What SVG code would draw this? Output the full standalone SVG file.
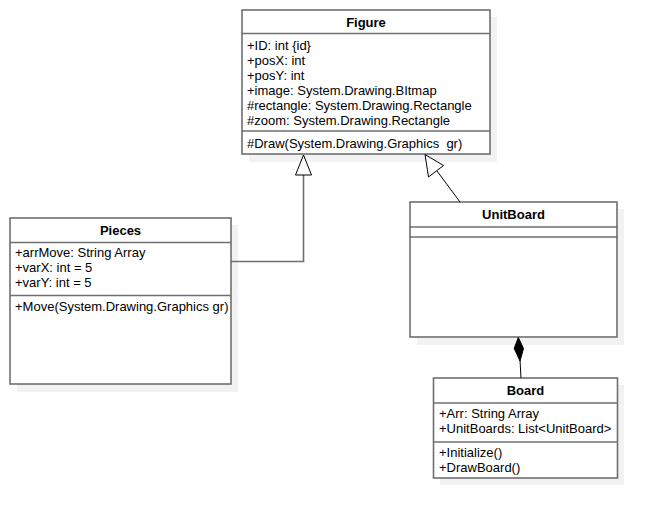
<svg xmlns="http://www.w3.org/2000/svg" width="657" height="518" viewBox="0 0 657 518">
<style>
.shadow{fill:#f2f2f2;stroke:none}
.box{fill:#ffffff;stroke:#6f6f6f;stroke-width:1.6}
.div{stroke:#6f6f6f;stroke-width:1.6}
.t{font-family:"Liberation Sans",Arial,sans-serif;font-size:13px;fill:#000}
.title{font-family:"Liberation Sans",Arial,sans-serif;font-size:13px;font-weight:bold;fill:#000;text-anchor:middle}
.conn{fill:none;stroke:#000;stroke-width:1}
.conn2{fill:none;stroke:#6f6f6f;stroke-width:1.6}
</style>
<rect width="657" height="518" fill="#ffffff"/>
<g id="Figure">
<rect class="shadow" x="249" y="17" width="248" height="145"/>
<rect class="box" x="242" y="10" width="248" height="144"/>
<line class="div" x1="242" y1="33.5" x2="490" y2="33.5"/>
<line class="div" x1="242" y1="131" x2="490" y2="131"/>
<text class="title" x="366" y="27">Figure</text>
<text class="t" x="247" y="50">+ID: int {id}</text>
<text class="t" x="247" y="65">+posX: int</text>
<text class="t" x="247" y="80">+posY: int</text>
<text class="t" x="247" y="95">+image: System.Drawing.BItmap</text>
<text class="t" x="247" y="110">#rectangle: System.Drawing.Rectangle</text>
<text class="t" x="247" y="125">#zoom: System.Drawing.Rectangle</text>
<text class="t" x="247" y="148" xml:space="preserve">#Draw(System.Drawing.Graphics  gr)</text>
</g>
<g id="Pieces">
<rect class="shadow" x="17" y="225" width="221" height="167"/>
<rect class="box" x="10" y="218" width="221" height="166"/>
<line class="div" x1="10" y1="242.5" x2="231" y2="242.5"/>
<line class="div" x1="10" y1="295.5" x2="231" y2="295.5"/>
<text class="title" x="120.5" y="235">Pieces</text>
<text class="t" x="15" y="257">+arrMove: String Array</text>
<text class="t" x="15" y="272">+varX: int = 5</text>
<text class="t" x="15" y="287">+varY: int = 5</text>
<text class="t" x="15" y="311">+Move(System.Drawing.Graphics gr)</text>
</g>
<g id="UnitBoard">
<rect class="shadow" x="417" y="209" width="207" height="136"/>
<rect class="box" x="410" y="202" width="207" height="135"/>
<line class="div" x1="410" y1="227" x2="617" y2="227"/>
<line class="div" x1="410" y1="237" x2="617" y2="237"/>
<text class="title" x="513.5" y="219">UnitBoard</text>
</g>
<g id="Board">
<rect class="shadow" x="440" y="385" width="184" height="100"/>
<rect class="box" x="433.5" y="378" width="184" height="100"/>
<line class="div" x1="433.5" y1="403" x2="617.5" y2="403"/>
<line class="div" x1="433.5" y1="442" x2="617.5" y2="442"/>
<text class="title" x="525.5" y="395">Board</text>
<text class="t" x="439" y="418">+Arr: String Array</text>
<text class="t" x="439" y="433">+UnitBoards: List&lt;UnitBoard&gt;</text>
<text class="t" x="439" y="457">+Initialize()</text>
<text class="t" x="439" y="472">+DrawBoard()</text>
</g>
<g id="connectors">
<polyline class="conn2" points="231,261.5 303.5,261.5 303.5,175"/>
<polygon points="303.5,155 295.5,175 311.5,175" fill="#ffffff" stroke="#000" stroke-width="1"/>
<line class="conn" x1="460" y1="202" x2="437" y2="171"/>
<polygon points="425,154.5 428.5,177 443.5,165.5" fill="#ffffff" stroke="#000" stroke-width="1"/>
<line class="conn" x1="520" y1="360" x2="521" y2="378"/>
<polygon points="518.3,337.5 523.5,348.5 520,361 514.2,348.5" fill="#000" stroke="#000" stroke-width="1"/>
</g>
</svg>
